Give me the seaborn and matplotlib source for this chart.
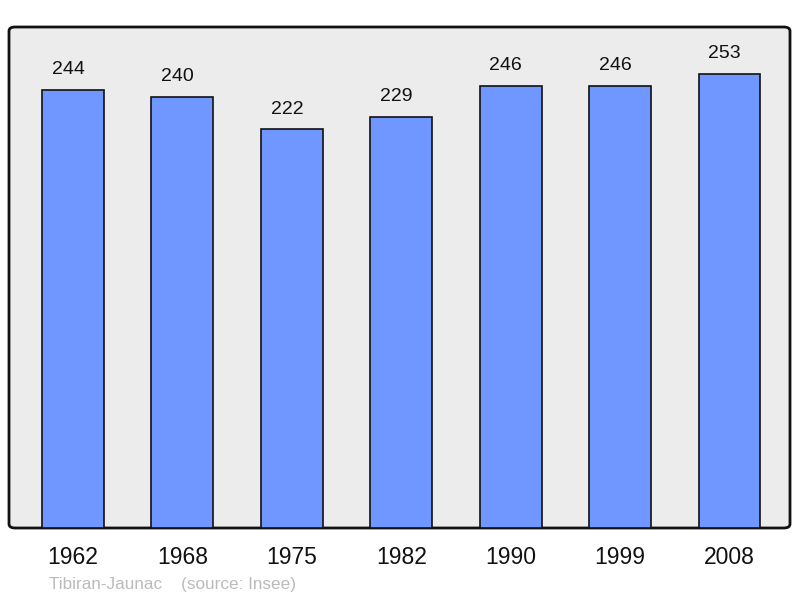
import matplotlib
matplotlib.use("Agg")
import matplotlib.pyplot as plt
import seaborn as sns
import pandas as pd
from matplotlib.patches import FancyBboxPatch

years = ["1962", "1968", "1975", "1982", "1990", "1999", "2008"]
population = [244, 240, 222, 229, 246, 246, 253]
commune = "Tibiran-Jaunac"
source = "(source: Insee)"

sns.set_theme(style="white")
plt.rcParams["font.family"] = ["Liberation Sans", "DejaVu Sans"]

df = pd.DataFrame({"year": years, "pop": population})

fig = plt.figure(figsize=(8.0, 5.98), dpi=100)
ax = fig.add_axes([9/800, 70/598, 781/800, 501/598])
ax.set_facecolor("none")

sns.barplot(data=df, x="year", y="pop", ax=ax, color="#7097ff",
            saturation=1, width=0.566, edgecolor="#111111", linewidth=1.2)

# rounded frame background
frame = FancyBboxPatch((0, 0), 1, 1,
                       boxstyle="round,pad=0,rounding_size=0.008",
                       transform=ax.transAxes, facecolor="#ececec",
                       edgecolor="#111111", linewidth=2.0, zorder=-1,
                       clip_on=False)
ax.add_artist(frame)

for p, v in zip(ax.patches, population):
    ax.annotate(str(v), (p.get_x() + p.get_width()/2, p.get_height()),
                xytext=(-3.5, 8.5), textcoords="offset points",
                ha="center", va="bottom", fontsize=14, color="#111111")

ax.set_xlim(-0.584, 6.553)
ax.set_ylim(0, 279)
ax.set_yticks([])
ax.set_xlabel("")
ax.set_ylabel("")
ax.tick_params(axis="x", length=0, labelsize=16.5, pad=13, colors="#111111")
for s in ax.spines.values():
    s.set_visible(False)

fig.text(49/800, 1 - 584/598, commune + "    " + source, fontsize=12.3,
         color="#bbbbbb", ha="left", va="center")

fig.savefig("out.png", dpi=100)
